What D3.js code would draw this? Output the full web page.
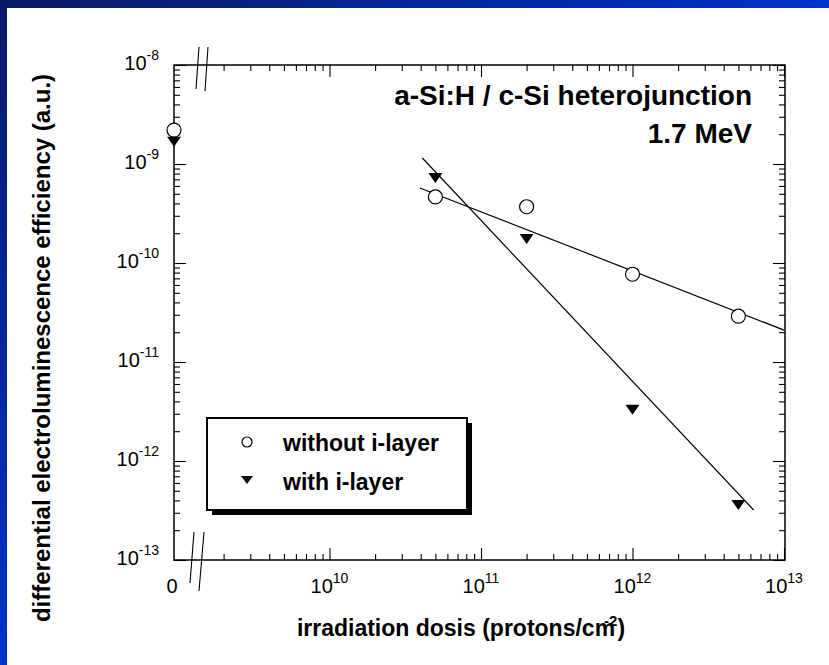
<!DOCTYPE html>
<html>
<head>
<meta charset="utf-8">
<script src="https://cdn.jsdelivr.net/npm/d3@7"></script>
<style>
  html, body { margin: 0; padding: 0; background: #fff; }
  svg { display: block; font-family: "Liberation Sans", Arial, sans-serif; }
</style>
</head>
<body>
<svg id="chart" width="829" height="665"></svg>
<script>
// Irradiation dose (protons/cm^2); 0 = unirradiated reference cell
const doses = [0, 5e10, 2e11, 1e12, 5e12];
// Differential electroluminescence efficiency (a.u.)
const withoutILayer = [2.2e-9, 4.65e-10, 3.7e-10, 7.7e-11, 2.9e-11];
const withILayer = [1.68e-9, 7.2e-10, 1.75e-10, 3.3e-12, 3.6e-13];
// Power-law fit lines (end points in data units)
const fitWithoutDose = [3.95e10, 1e13];
const fitWithoutEff = [5.73e-10, 2.1e-11];
const fitWithDose = [4.1e10, 6.3e12];
const fitWithEff = [1.15e-9, 3.2e-13];
// Tick decades
const xTickExps = [10, 11, 12, 13];
const yTickExps = [-8, -9, -10, -11, -12, -13];
const seriesNames = ["without i-layer", "with i-layer"];
const titleLines = ["a-Si:H / c-Si heterojunction", "1.7 MeV"];

const svg = d3.select("#chart");
const W = 829, H = 665;

// Slide-style frame: gradient blue strip along top and left edges
const defs = svg.append("defs");
const grad = defs.append("linearGradient").attr("id", "frameGrad")
  .attr("x1", 0).attr("y1", 0).attr("x2", 1).attr("y2", 1);
grad.append("stop").attr("offset", 0).attr("stop-color", "#0b1a66");
grad.append("stop").attr("offset", 0.5).attr("stop-color", "#0033c8");
grad.append("stop").attr("offset", 1).attr("stop-color", "#0036d2");
svg.append("rect").attr("width", W).attr("height", H).attr("fill", "url(#frameGrad)");
svg.append("rect").attr("x", 7).attr("y", 8).attr("width", W - 7).attr("height", H - 8).attr("fill", "#fff");

const plot = { left: 174, top: 65, right: 785, bottom: 560 };
const logStart = 178; // x position of 1e9 on the log part of the axis

const x = d3.scaleLog().domain([1e9, 1e13]).range([logStart, 784]);
const y = d3.scaleLog().domain([1e-13, 1e-8]).range([plot.bottom, plot.top]);
const xPos = d => d === 0 ? plot.left : x(d);

const g = svg.append("g");

// Minor tick values
const xMinor = [];
for (let e = 9; e < 13; e++) for (let m = 2; m <= 9; m++) xMinor.push(m * Math.pow(10, e));
const yMinor = [];
for (let e = -13; e < -8; e++) for (let m = 2; m <= 9; m++) yMinor.push(m * Math.pow(10, e));
const xMajor = xTickExps.map(e => Math.pow(10, e));
const yMajor = yTickExps.map(e => Math.pow(10, e));

function styleAxis(sel) {
  sel.select(".domain").remove();
  sel.selectAll(".tick line").attr("stroke", "#000").attr("stroke-width", 1.1);
  sel.selectAll(".tick text").remove();
}

// Inward ticks on all four sides
g.append("g").attr("transform", `translate(0,${plot.bottom})`)
  .call(d3.axisBottom(x).tickValues(xMajor).tickSize(-12).tickFormat("")).call(styleAxis);
g.append("g").attr("transform", `translate(0,${plot.bottom})`)
  .call(d3.axisBottom(x).tickValues(xMinor).tickSize(-6).tickFormat("")).call(styleAxis);
g.append("g").attr("transform", `translate(0,${plot.top})`)
  .call(d3.axisTop(x).tickValues(xMajor).tickSize(-12).tickFormat("")).call(styleAxis);
g.append("g").attr("transform", `translate(0,${plot.top})`)
  .call(d3.axisTop(x).tickValues(xMinor).tickSize(-6).tickFormat("")).call(styleAxis);
g.append("g").attr("transform", `translate(${plot.left},0)`)
  .call(d3.axisLeft(y).tickValues(yMajor).tickSize(-12).tickFormat("")).call(styleAxis);
g.append("g").attr("transform", `translate(${plot.left},0)`)
  .call(d3.axisLeft(y).tickValues(yMinor).tickSize(-6).tickFormat("")).call(styleAxis);
g.append("g").attr("transform", `translate(${plot.right},0)`)
  .call(d3.axisRight(y).tickValues(yMajor).tickSize(-12).tickFormat("")).call(styleAxis);
g.append("g").attr("transform", `translate(${plot.right},0)`)
  .call(d3.axisRight(y).tickValues(yMinor).tickSize(-6).tickFormat("")).call(styleAxis);

// Plot frame
g.append("rect")
  .attr("x", plot.left).attr("y", plot.top)
  .attr("width", plot.right - plot.left).attr("height", plot.bottom - plot.top)
  .attr("fill", "none").attr("stroke", "#000").attr("stroke-width", 1.5);

// Axis break marks between 0 and the log decades
const breakG = g.append("g").attr("stroke", "#000").attr("stroke-width", 1.1).attr("fill", "none");
[[199, 47, 196, 89], [208, 47, 205, 91]].forEach(([x1, y1, x2, y2]) => {
  breakG.append("line").attr("x1", x1).attr("y1", y1).attr("x2", x2).attr("y2", y2);
});
[[194, 532, 190, 583], [204, 532, 199, 591]].forEach(([x1, y1, x2, y2]) => {
  breakG.append("line").attr("x1", x1).attr("y1", y1).attr("x2", x2).attr("y2", y2);
});

// Tick labels
const tickFont = 20, supFont = 14;
const xl = g.append("g").attr("font-size", tickFont).attr("fill", "#000");
xl.append("text").attr("x", plot.left - 2).attr("y", plot.bottom + 33)
  .attr("text-anchor", "middle").text("0");
xTickExps.forEach(e => {
  const t = xl.append("text").attr("x", x(Math.pow(10, e))).attr("y", plot.bottom + 33)
    .attr("text-anchor", "middle");
  t.append("tspan").text("10");
  t.append("tspan").attr("font-size", supFont).attr("dy", -10).text(e);
});
yTickExps.forEach(e => {
  const t = xl.append("text").attr("x", plot.left - 15)
    .attr("y", y(Math.pow(10, e)) + 5).attr("text-anchor", "end");
  t.append("tspan").text("10");
  t.append("tspan").attr("font-size", supFont).attr("dy", -10).text(e);
});

// Axis titles
const xt = g.append("text").attr("x", 461).attr("y", 636)
  .attr("text-anchor", "middle").attr("font-size", 23).attr("font-weight", "bold");
xt.append("tspan").text("irradiation dosis (protons/cm");
xt.append("tspan").attr("font-size", 15).attr("dx", -11).attr("dy", -10).text("-2");
xt.append("tspan").attr("dy", 10).text(")");

g.append("text")
  .attr("transform", "translate(50,348) rotate(-90)")
  .attr("text-anchor", "middle").attr("font-size", 24).attr("font-weight", "bold")
  .text("differential electroluminescence efficiency (a.u.)");

// Fit lines
const line = d3.line().x(d => x(d[0])).y(d => y(d[1]));
[[fitWithoutDose, fitWithoutEff], [fitWithDose, fitWithEff]].forEach(([ds, es]) => {
  g.append("path").datum(ds.map((d, i) => [d, es[i]]))
    .attr("d", line).attr("fill", "none").attr("stroke", "#000").attr("stroke-width", 1.2);
});

// Markers
const tri = (cx, cy, w, h) => `M${cx - w / 2},${cy - h / 2}L${cx + w / 2},${cy - h / 2}L${cx},${cy + h / 2}Z`;
g.selectAll("circle.pt").data(doses.map((d, i) => [d, withoutILayer[i]]))
  .join("circle").attr("class", "pt")
  .attr("cx", d => xPos(d[0])).attr("cy", d => y(d[1])).attr("r", 7)
  .attr("fill", "#fff").attr("stroke", "#000").attr("stroke-width", 1.2);
g.selectAll("path.tri").data(doses.map((d, i) => [d, withILayer[i]]))
  .join("path").attr("class", "tri")
  .attr("d", d => tri(xPos(d[0]), y(d[1]), 14, 10)).attr("fill", "#000");

// Title
const title = g.append("text").attr("text-anchor", "end").attr("font-weight", "bold")
  .attr("font-size", 28);
title.append("tspan").attr("x", 752).attr("y", 105).text(titleLines[0]);
title.append("tspan").attr("x", 752).attr("y", 143).text(titleLines[1]);

// Legend with drop shadow
const lg = { x: 207, y: 418, w: 260, h: 92 };
g.append("rect").attr("x", lg.x + 5).attr("y", lg.y + 5).attr("width", lg.w).attr("height", lg.h).attr("fill", "#000");
g.append("rect").attr("x", lg.x).attr("y", lg.y).attr("width", lg.w).attr("height", lg.h)
  .attr("fill", "#fff").attr("stroke", "#000").attr("stroke-width", 2);
g.append("circle").attr("cx", 247).attr("cy", 442).attr("r", 5)
  .attr("fill", "#fff").attr("stroke", "#000").attr("stroke-width", 1.2);
g.append("path").attr("d", tri(247, 480, 12, 8)).attr("fill", "#000");
g.append("text").attr("x", 283).attr("y", 451).attr("font-size", 23).attr("font-weight", "bold").text(seriesNames[0]);
g.append("text").attr("x", 283).attr("y", 490).attr("font-size", 23).attr("font-weight", "bold").text(seriesNames[1]);
</script>
</body>
</html>
